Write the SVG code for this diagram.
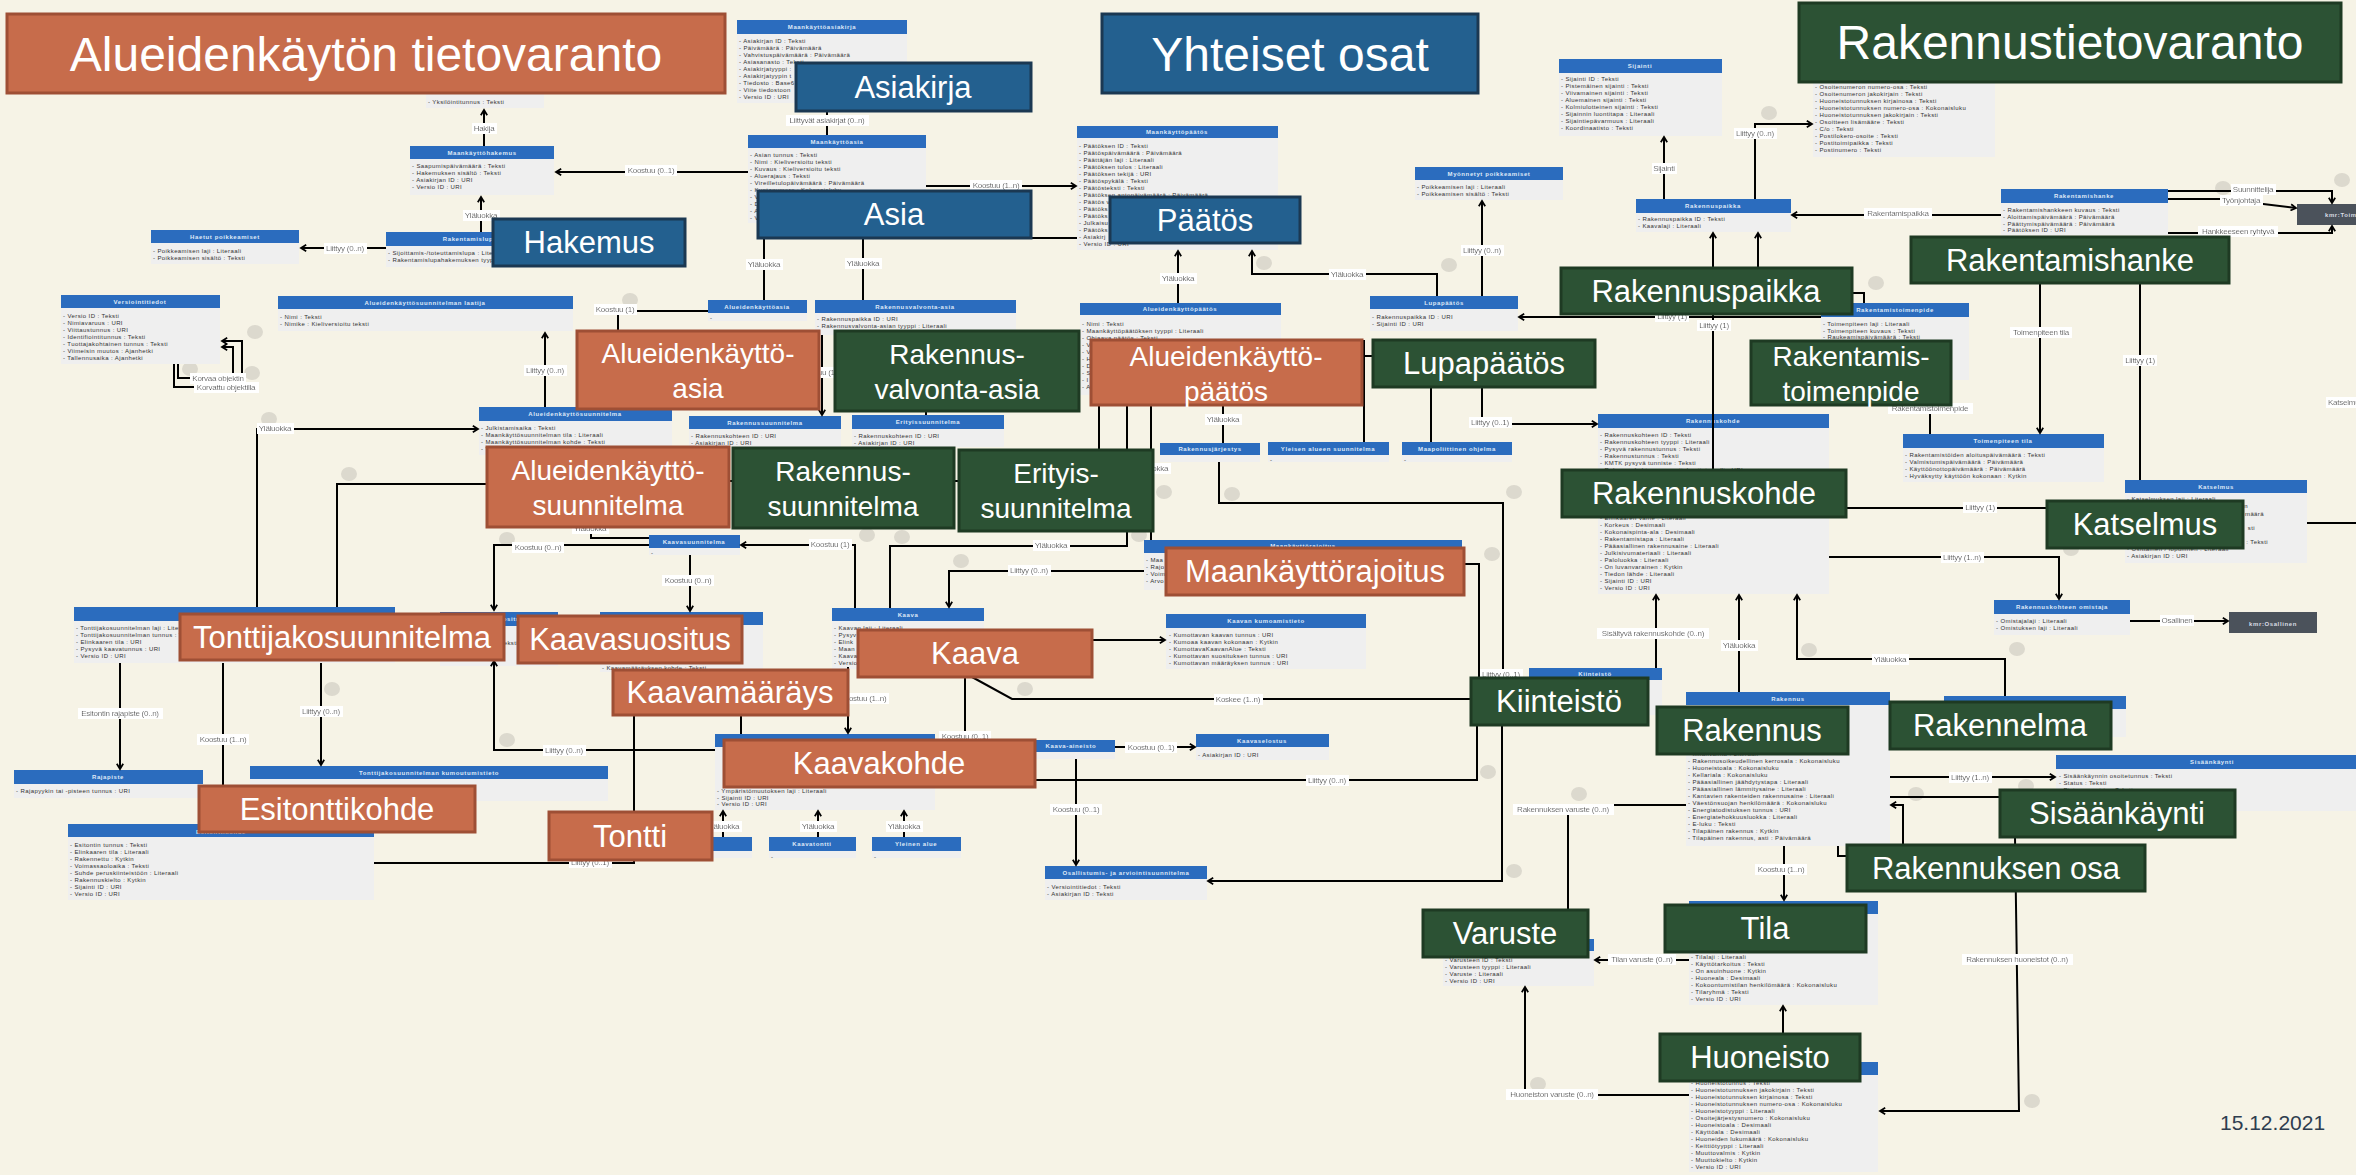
<svg xmlns="http://www.w3.org/2000/svg" width="2356" height="1175" viewBox="0 0 2356 1175">
<defs>
<style>
.hd{fill:#2b6cbe}
.bd{fill:#efefef}
.ht{font-family:'Liberation Sans',Arial,sans-serif;font-size:6px;font-weight:bold;fill:#dfe9f7;text-anchor:middle;letter-spacing:.6px}
.at{font-family:'Liberation Sans',Arial,sans-serif;font-size:6px;fill:#333;letter-spacing:.4px}
.ln{fill:none;stroke:#000;stroke-width:2}
.ar{marker-end:url(#arr)}
.lb{font-family:'Liberation Sans',Arial,sans-serif;font-size:8px;fill:#000;text-anchor:middle;letter-spacing:-.25px;filter:url(#wbg)}
.or{fill:#c76c4b;stroke:#9e4f35;stroke-width:3}
.bl{fill:#23608f;stroke:#1b3852;stroke-width:3}
.gr{fill:#2c5234;stroke:#1e3a23;stroke-width:3}
.bt{font-family:'Liberation Sans',Arial,sans-serif;fill:#fff;text-anchor:middle}
.b31{font-size:31px}
.b28{font-size:28px}
.b48{font-size:48px}
.bub{fill:#dcd9ce}
.km{fill:#4b525b}
.kt{font-family:'Liberation Sans',Arial,sans-serif;font-size:6px;font-weight:bold;fill:#d8dde4;letter-spacing:.6px}
</style>
<marker id="arr" viewBox="0 0 10 10" refX="8" refY="5" markerWidth="8" markerHeight="8" markerUnits="userSpaceOnUse" orient="auto">
<path d="M1.5,1 L8,5 L1.5,9" fill="none" stroke="#000" stroke-width="2.2"/>
</marker>
<filter id="wbg" x="-0.04" y="-0.1" width="1.08" height="1.2">
<feFlood flood-color="#ffffff" result="f"/>
<feMerge><feMergeNode in="f"/><feMergeNode in="SourceGraphic"/></feMerge>
</filter>
</defs>
<rect width="2356" height="1175" fill="#f6f3e6"/>

<g id="bubbles">
<ellipse class="bub" cx="255" cy="332" rx="8" ry="7"/><ellipse class="bub" cx="190" cy="369" rx="8" ry="7"/><ellipse class="bub" cx="252" cy="373" rx="8" ry="7"/><ellipse class="bub" cx="630" cy="300" rx="8" ry="7"/><ellipse class="bub" cx="1264" cy="263" rx="8" ry="7"/><ellipse class="bub" cx="1449" cy="265" rx="8" ry="7"/><ellipse class="bub" cx="2342" cy="180" rx="8" ry="7"/><ellipse class="bub" cx="2223" cy="188" rx="8" ry="7"/><ellipse class="bub" cx="1876" cy="283" rx="8" ry="7"/><ellipse class="bub" cx="1769" cy="113" rx="8" ry="7"/><ellipse class="bub" cx="269" cy="419" rx="8" ry="7"/><ellipse class="bub" cx="349" cy="474" rx="8" ry="7"/><ellipse class="bub" cx="507" cy="539" rx="8" ry="7"/><ellipse class="bub" cx="332" cy="689" rx="8" ry="7"/><ellipse class="bub" cx="507" cy="740" rx="8" ry="7"/><ellipse class="bub" cx="867" cy="535" rx="8" ry="7"/><ellipse class="bub" cx="902" cy="537" rx="8" ry="7"/><ellipse class="bub" cx="961" cy="561" rx="8" ry="7"/><ellipse class="bub" cx="1025" cy="689" rx="8" ry="7"/><ellipse class="bub" cx="1139" cy="535" rx="8" ry="7"/><ellipse class="bub" cx="1164" cy="492" rx="8" ry="7"/><ellipse class="bub" cx="1232" cy="494" rx="8" ry="7"/><ellipse class="bub" cx="1514" cy="492" rx="8" ry="7"/><ellipse class="bub" cx="1492" cy="554" rx="8" ry="7"/><ellipse class="bub" cx="1488" cy="772" rx="8" ry="7"/><ellipse class="bub" cx="2071" cy="549" rx="8" ry="7"/><ellipse class="bub" cx="1809" cy="650" rx="8" ry="7"/><ellipse class="bub" cx="2017" cy="649" rx="8" ry="7"/><ellipse class="bub" cx="1579" cy="794" rx="8" ry="7"/><ellipse class="bub" cx="1514" cy="871" rx="8" ry="7"/><ellipse class="bub" cx="1538" cy="1084" rx="8" ry="7"/><ellipse class="bub" cx="1916" cy="794" rx="8" ry="7"/><ellipse class="bub" cx="2032" cy="1101" rx="8" ry="7"/><ellipse class="bub" cx="2026" cy="786" rx="8" ry="7"/>
</g>

<g id="classes">
<g id="c-yksilointi"><rect class="hd" x="426" y="80" width="118" height="14"/><rect class="bd" x="426" y="94" width="118" height="14"/><text class="at" x="428" y="104">- Yksilöintitunnus : Teksti</text></g>
<g id="c-maankayttohakemus"><rect class="hd" x="410" y="146" width="144" height="13"/><text class="ht" x="482" y="155">Maankäyttöhakemus</text><rect class="bd" x="410" y="159" width="144" height="36"/><text class="at" x="412" y="168"><tspan x="412">- Saapumispäivämäärä : Teksti</tspan><tspan x="412" dy="7">- Hakemuksen sisältö : Teksti</tspan><tspan x="412" dy="7">- Asiakirjan ID : URI</tspan><tspan x="412" dy="7">- Versio ID : URI</tspan></text></g>
<g id="c-haetut"><rect class="hd" x="151" y="230" width="148" height="13"/><text class="ht" x="225" y="239">Haetut poikkeamiset</text><rect class="bd" x="151" y="243" width="148" height="21"/><text class="at" x="153" y="253"><tspan x="153">- Poikkeamisen laji : Literaali</tspan><tspan x="153" dy="7">- Poikkeamisen sisältö : Teksti</tspan></text></g>
<g id="c-rakentamislupa"><rect class="hd" x="386" y="232" width="168" height="14"/><text class="ht" x="470" y="241">Rakentamislupa</text><rect class="bd" x="386" y="246" width="168" height="21"/><text class="at" x="388" y="255"><tspan x="388">- Sijoittamis-/toteuttamislupa : Literaali</tspan><tspan x="388" dy="7">- Rakentamislupahakemuksen tyyppi : Literaali</tspan></text></g>
<g id="c-versiointi"><rect class="hd" x="61" y="295" width="159" height="13"/><text class="ht" x="140" y="304">Versiointitiedot</text><rect class="bd" x="61" y="308" width="159" height="56"/><text class="at" x="63" y="318"><tspan x="63">- Versio ID : Teksti</tspan><tspan x="63" dy="7">- Nimiavaruus : URI</tspan><tspan x="63" dy="7">- Viittaustunnus : URI</tspan><tspan x="63" dy="7">- Identifiointitunnus : Teksti</tspan><tspan x="63" dy="7">- Tuottajakohtainen tunnus : Teksti</tspan><tspan x="63" dy="7">- Viimeisin muutos : Ajanhetki</tspan><tspan x="63" dy="7">- Tallennusaika : Ajanhetki</tspan></text></g>
<g id="c-laatija"><rect class="hd" x="278" y="296" width="295" height="13"/><text class="ht" x="425" y="305">Alueidenkäyttösuunnitelman laatija</text><rect class="bd" x="278" y="309" width="295" height="22"/><text class="at" x="280" y="319"><tspan x="280">- Nimi : Teksti</tspan><tspan x="280" dy="7">- Nimike : Kieliversioitu teksti</tspan></text></g>
<g id="c-maankayttoasiakirja"><rect class="hd" x="737" y="20" width="170" height="14"/><text class="ht" x="822" y="29">Maankäyttöasiakirja</text><rect class="bd" x="737" y="34" width="170" height="69"/><text class="at" x="739" y="43"><tspan x="739">- Asiakirjan ID : Teksti</tspan><tspan x="739" dy="7">- Päivämäärä : Päivämäärä</tspan><tspan x="739" dy="7">- Vahvistuspäivämäärä : Päivämäärä</tspan><tspan x="739" dy="7">- Asiasanasto : Teksti</tspan><tspan x="739" dy="7">- Asiakirjatyyppi :</tspan><tspan x="739" dy="7">- Asiakirjatyypin t</tspan><tspan x="739" dy="7">- Tiedosto : Base6</tspan><tspan x="739" dy="7">- Viite tiedostoon</tspan><tspan x="739" dy="7">- Versio ID : URI</tspan></text></g>
<g id="c-maankayttoasia"><rect class="hd" x="748" y="135" width="178" height="13"/><text class="ht" x="837" y="144">Maankäyttöasia</text><rect class="bd" x="748" y="148" width="178" height="75"/><text class="at" x="750" y="157"><tspan x="750">- Asian tunnus : Teksti</tspan><tspan x="750" dy="7">- Nimi : Kieliversioitu teksti</tspan><tspan x="750" dy="7">- Kuvaus : Kieliversioitu teksti</tspan><tspan x="750" dy="7">- Aluerajaus : Teksti</tspan><tspan x="750" dy="7">- Vireilletulopäivämäärä : Päivämäärä</tspan><tspan x="750" dy="7">- Kuntanumero : Kokonaisluku</tspan><tspan x="750" dy="7">- V</tspan><tspan x="750" dy="7">- D</tspan><tspan x="750" dy="7">- A</tspan><tspan x="750" dy="7">- V</tspan></text></g>
<g id="c-maankayttopaatos"><rect class="hd" x="1077" y="126" width="201" height="12"/><text class="ht" x="1177" y="134">Maankäyttöpäätös</text><rect class="bd" x="1077" y="138" width="201" height="112"/><text class="at" x="1079" y="148"><tspan x="1079">- Päätöksen ID : Teksti</tspan><tspan x="1079" dy="7">- Päätöspäivämäärä : Päivämäärä</tspan><tspan x="1079" dy="7">- Päättäjän laji : Literaali</tspan><tspan x="1079" dy="7">- Päätöksen tulos : Literaali</tspan><tspan x="1079" dy="7">- Päätöksen tekijä : URI</tspan><tspan x="1079" dy="7">- Päätöspykälä : Teksti</tspan><tspan x="1079" dy="7">- Päätösteksti : Teksti</tspan><tspan x="1079" dy="7">- Päätöksen antopäivämäärä : Päivämäärä</tspan><tspan x="1079" dy="7">- Päätös v</tspan><tspan x="1079" dy="7">- Päätöks</tspan><tspan x="1079" dy="7">- Päätöks</tspan><tspan x="1079" dy="7">- Julkaisu</tspan><tspan x="1079" dy="7">- Päätöks</tspan><tspan x="1079" dy="7">- Asiakirj</tspan><tspan x="1079" dy="7">- Versio ID : URI</tspan></text></g>
<g id="c-alueidenkayttoasia"><rect class="hd" x="708" y="300" width="99" height="13"/><text class="ht" x="757" y="309">Alueidenkäyttöasia</text><rect class="bd" x="708" y="313" width="99" height="8"/><text class="at" x="710" y="320">-</text></g>
<g id="c-rakennusvalvontaasia"><rect class="hd" x="815" y="300" width="201" height="13"/><text class="ht" x="915" y="309">Rakennusvalvonta-asia</text><rect class="bd" x="815" y="313" width="201" height="22"/><text class="at" x="817" y="321"><tspan x="817">- Rakennuspaikka ID : URI</tspan><tspan x="817" dy="7">- Rakennusvalvonta-asian tyyppi : Literaali</tspan></text></g>
<g id="c-alueidenkayttopaatos"><rect class="hd" x="1080" y="303" width="201" height="12"/><text class="ht" x="1180" y="311">Alueidenkäyttöpäätös</text><rect class="bd" x="1080" y="315" width="201" height="80"/><text class="at" x="1082" y="326"><tspan x="1082">- Nimi : Teksti</tspan><tspan x="1082" dy="7">- Maankäyttöpäätöksen tyyppi : Literaali</tspan><tspan x="1082" dy="7">- Ohjaava päätös : Teksti</tspan><tspan x="1082" dy="7">- V</tspan><tspan x="1082" dy="7">- V</tspan><tspan x="1082" dy="7">- H</tspan><tspan x="1082" dy="7">- D</tspan><tspan x="1082" dy="7">- S</tspan><tspan x="1082" dy="7">- I</tspan><tspan x="1082" dy="7">- A</tspan></text></g>
<g id="c-myonnetyt"><rect class="hd" x="1415" y="167" width="148" height="13"/><text class="ht" x="1489" y="176">Myönnetyt poikkeamiset</text><rect class="bd" x="1415" y="180" width="148" height="20"/><text class="at" x="1417" y="189"><tspan x="1417">- Poikkeamisen laji : Literaali</tspan><tspan x="1417" dy="7">- Poikkeamisen sisältö : Teksti</tspan></text></g>
<g id="c-lupapaatos"><rect class="hd" x="1370" y="296" width="148" height="13"/><text class="ht" x="1444" y="305">Lupapäätös</text><rect class="bd" x="1370" y="309" width="148" height="22"/><text class="at" x="1372" y="319"><tspan x="1372">- Rakennuspaikka ID : URI</tspan><tspan x="1372" dy="6.5">- Sijainti ID : URI</tspan></text></g>
<g id="c-sijainti"><rect class="hd" x="1559" y="59" width="163" height="14"/><text class="ht" x="1640" y="68">Sijainti</text><rect class="bd" x="1559" y="73" width="163" height="63"/><text class="at" x="1561" y="81"><tspan x="1561">- Sijainti ID : Teksti</tspan><tspan x="1561" dy="7">- Pistemäinen sijainti : Teksti</tspan><tspan x="1561" dy="7">- Viivamainen sijainti : Teksti</tspan><tspan x="1561" dy="7">- Aluemainen sijainti : Teksti</tspan><tspan x="1561" dy="7">- Kolmiulotteinen sijainti : Teksti</tspan><tspan x="1561" dy="7">- Sijainnin luontitapa : Literaali</tspan><tspan x="1561" dy="7">- Sijaintiepävarmuus : Literaali</tspan><tspan x="1561" dy="7">- Koordinaatisto : Teksti</tspan></text></g>
<g id="c-rakennuspaikka"><rect class="hd" x="1636" y="199" width="155" height="14"/><text class="ht" x="1713" y="208">Rakennuspaikka</text><rect class="bd" x="1636" y="213" width="155" height="19"/><text class="at" x="1638" y="221"><tspan x="1638">- Rakennuspaikka ID : Teksti</tspan><tspan x="1638" dy="7">- Kaavalaji : Literaali</tspan></text></g>
<g id="c-osoite"><rect class="hd" x="1813" y="40" width="182" height="14"/><rect class="bd" x="1813" y="54" width="182" height="103"/><text class="at" x="1815" y="89"><tspan x="1815">- Osoitenumeron numero-osa : Teksti</tspan><tspan x="1815" dy="7">- Osoitenumeron jakokirjain : Teksti</tspan><tspan x="1815" dy="7">- Huoneistotunnuksen kirjainosa : Teksti</tspan><tspan x="1815" dy="7">- Huoneistotunnuksen numero-osa : Kokonaisluku</tspan><tspan x="1815" dy="7">- Huoneistotunnuksen jakokirjain : Teksti</tspan><tspan x="1815" dy="7">- Osoitteen lisämääre : Teksti</tspan><tspan x="1815" dy="7">- C/o : Teksti</tspan><tspan x="1815" dy="7">- Postilokero-osoite : Teksti</tspan><tspan x="1815" dy="7">- Postitoimipaikka : Teksti</tspan><tspan x="1815" dy="7">- Postinumero : Teksti</tspan></text></g>
<g id="c-rakentamishanke"><rect class="hd" x="2001" y="189" width="167" height="14"/><text class="ht" x="2084" y="198">Rakentamishanke</text><rect class="bd" x="2001" y="203" width="167" height="32"/><text class="at" x="2003" y="212"><tspan x="2003">- Rakentamishankkeen kuvaus : Teksti</tspan><tspan x="2003" dy="6.8">- Aloittamispäivämäärä : Päivämäärä</tspan><tspan x="2003" dy="6.8">- Päättymispäivämäärä : Päivämäärä</tspan><tspan x="2003" dy="6.8">- Päätöksen ID : URI</tspan></text></g>
<g id="c-rakentamistoimenpide"><rect class="hd" x="1821" y="303" width="148" height="14"/><text class="ht" x="1895" y="312">Rakentamistoimenpide</text><rect class="bd" x="1821" y="317" width="148" height="63"/><text class="at" x="1823" y="326"><tspan x="1823">- Toimenpiteen laji : Literaali</tspan><tspan x="1823" dy="6.6">- Toimenpiteen kuvaus : Teksti</tspan><tspan x="1823" dy="6.6">- Raukeamispäivämäärä : Teksti</tspan></text></g>
<g id="c-alueidenkayttosuunnitelma"><rect class="hd" x="479" y="407" width="193" height="14"/><text class="ht" x="575" y="416">Alueidenkäyttösuunnitelma</text><rect class="bd" x="479" y="421" width="193" height="34"/><text class="at" x="481" y="430"><tspan x="481">- Julkistamisaika : Teksti</tspan><tspan x="481" dy="7">- Maankäyttösuunnitelman tila : Literaali</tspan><tspan x="481" dy="7">- Maankäyttösuunnitelman kohde : Teksti</tspan><tspan x="481" dy="7">- Versio ID : URI</tspan></text></g>
<g id="c-rakennussuunnitelma"><rect class="hd" x="689" y="416" width="152" height="13"/><text class="ht" x="765" y="425">Rakennussuunnitelma</text><rect class="bd" x="689" y="429" width="152" height="18"/><text class="at" x="691" y="438"><tspan x="691">- Rakennuskohteen ID : URI</tspan><tspan x="691" dy="7">- Asiakirjan ID : URI</tspan></text></g>
<g id="c-erityissuunnitelma"><rect class="hd" x="852" y="415" width="152" height="14"/><text class="ht" x="928" y="424">Erityissuunnitelma</text><rect class="bd" x="852" y="429" width="152" height="18"/><text class="at" x="854" y="438"><tspan x="854">- Rakennuskohteen ID : URI</tspan><tspan x="854" dy="7">- Asiakirjan ID : URI</tspan></text></g>
<g id="c-kaavasuunnitelma"><rect class="hd" x="649" y="535" width="91" height="13"/><text class="ht" x="694" y="544">Kaavasuunnitelma</text><rect class="bd" x="649" y="548" width="91" height="7"/><text class="at" x="651" y="555">-</text></g>
<g id="c-tonttijako"><rect class="hd" x="74" y="607" width="321" height="14"/><rect class="bd" x="74" y="621" width="321" height="42"/><text class="at" x="76" y="630"><tspan x="76">- Tonttijakosuunnitelman laji : Literaali</tspan><tspan x="76" dy="7">- Tonttijakosuunnitelman tunnus : Teksti</tspan><tspan x="76" dy="7">- Elinkaaren tila : URI</tspan><tspan x="76" dy="7">- Pysyvä kaavatunnus : URI</tspan><tspan x="76" dy="7">- Versio ID : URI</tspan></text></g>
<g id="c-kaavasuositus"><rect class="hd" x="440" y="612" width="118" height="14"/><text class="ht" x="499" y="621">Kaavasuositus</text><rect class="bd" x="440" y="626" width="118" height="40"/><text class="at" x="518" y="645" text-anchor="end">: Teksti</text></g>
<g id="c-kaavamaarays"><rect class="hd" x="600" y="612" width="163" height="13"/><rect class="bd" x="600" y="625" width="163" height="47"/><text class="at" x="602" y="670">- Kaavamääräyksen kohde : Teksti</text></g>
<g id="c-kaava"><rect class="hd" x="832" y="608" width="152" height="13"/><text class="ht" x="908" y="617">Kaava</text><rect class="bd" x="832" y="621" width="152" height="48"/><text class="at" x="834" y="630"><tspan x="834">- Kaavan laji : Literaali</tspan><tspan x="834" dy="7">- Pysyv</tspan><tspan x="834" dy="7">- Elink</tspan><tspan x="834" dy="7">- Maan</tspan><tspan x="834" dy="7">- Kaava</tspan><tspan x="834" dy="7">- Versio</tspan></text></g>
<g id="c-maankayttorajoitus"><rect class="hd" x="1144" y="540" width="318" height="13"/><text class="ht" x="1303" y="548">Maankäyttörajoitus</text><rect class="bd" x="1144" y="553" width="318" height="37"/><text class="at" x="1146" y="562"><tspan x="1146">- Maa</tspan><tspan x="1146" dy="7">- Rajo</tspan><tspan x="1146" dy="7">- Voim</tspan><tspan x="1146" dy="7">- Arvo</tspan></text></g>
<g id="c-rakennusjarjestys"><rect class="hd" x="1160" y="443" width="100" height="12"/><text class="ht" x="1210" y="451">Rakennusjärjestys</text><rect class="bd" x="1160" y="455" width="100" height="7"/></g>
<g id="c-yleisen"><rect class="hd" x="1268" y="442" width="121" height="13"/><text class="ht" x="1328" y="451">Yleisen alueen suunnitelma</text><rect class="bd" x="1268" y="455" width="121" height="7"/><text class="at" x="1270" y="462">-</text></g>
<g id="c-maapoliittinen"><rect class="hd" x="1402" y="442" width="110" height="13"/><text class="ht" x="1457" y="451">Maapoliittinen ohjelma</text><rect class="bd" x="1402" y="455" width="110" height="7"/><text class="at" x="1404" y="462">-</text></g>
<g id="c-rakennuskohde"><rect class="hd" x="1598" y="414" width="231" height="14"/><text class="ht" x="1713" y="423">Rakennuskohde</text><rect class="bd" x="1598" y="428" width="231" height="166"/><text class="at" x="1600" y="437"><tspan x="1600">- Rakennuskohteen ID : Teksti</tspan><tspan x="1600" dy="7">- Rakennuskohteen tyyppi : Literaali</tspan><tspan x="1600" dy="7">- Pysyvä rakennustunnus : Teksti</tspan><tspan x="1600" dy="7">- Rakennustunnus : Teksti</tspan><tspan x="1600" dy="7">- KMTK pysyvä tunniste : Teksti</tspan><tspan x="1600" dy="7">- Rakennuskohteen suunnitelmatietomalli : URI</tspan></text><text class="at" x="1600" y="520"><tspan x="1600">- Elinkaaren vaihe : Literaali</tspan><tspan x="1600" dy="7">- Korkeus : Desimaali</tspan><tspan x="1600" dy="7">- Kokonaispinta-ala : Desimaali</tspan><tspan x="1600" dy="7">- Rakentamistapa : Literaali</tspan><tspan x="1600" dy="7">- Pääasiallinen rakennusaine : Literaali</tspan><tspan x="1600" dy="7">- Julkisivumateriaali : Literaali</tspan><tspan x="1600" dy="7">- Paloluokka : Literaali</tspan><tspan x="1600" dy="7">- On luvanvarainen : Kytkin</tspan><tspan x="1600" dy="7">- Tiedon lähde : Literaali</tspan><tspan x="1600" dy="7">- Sijainti ID : URI</tspan><tspan x="1600" dy="7">- Versio ID : URI</tspan></text></g>
<g id="c-kaavankumoamis"><rect class="hd" x="1166" y="614" width="200" height="14"/><text class="ht" x="1266" y="623">Kaavan kumoamistieto</text><rect class="bd" x="1166" y="628" width="200" height="41"/><text class="at" x="1169" y="637"><tspan x="1169">- Kumottavan kaavan tunnus : URI</tspan><tspan x="1169" dy="7">- Kumoaa kaavan kokonaan : Kytkin</tspan><tspan x="1169" dy="7">- KumottavaKaavanAlue : Teksti</tspan><tspan x="1169" dy="7">- Kumottavan suosituksen tunnus : URI</tspan><tspan x="1169" dy="7">- Kumottavan määräyksen tunnus : URI</tspan></text></g>
<g id="c-kaavaselostus"><rect class="hd" x="1196" y="734" width="133" height="13"/><text class="ht" x="1262" y="743">Kaavaselostus</text><rect class="bd" x="1196" y="747" width="133" height="13"/><text class="at" x="1198" y="757">- Asiakirjan ID : URI</text></g>
<g id="c-kiinteisto"><rect class="hd" x="1529" y="668" width="133" height="12"/><text class="ht" x="1595" y="676">Kiinteistö</text><rect class="bd" x="1529" y="680" width="133" height="35"/></g>
<g id="c-rakennus"><rect class="hd" x="1686" y="692" width="204" height="13"/><text class="ht" x="1788" y="701">Rakennus</text><rect class="bd" x="1686" y="705" width="204" height="141"/><text class="at" x="1688" y="756"><tspan x="1688">- Ilmanvaihto : Literaali</tspan><tspan x="1688" dy="7">- Rakennusoikeudellinen kerrosala : Kokonaisluku</tspan><tspan x="1688" dy="7">- Huoneistoala : Kokonaisluku</tspan><tspan x="1688" dy="7">- Kellariala : Kokonaisluku</tspan><tspan x="1688" dy="7">- Pääasiallinen jäähdytystapa : Literaali</tspan><tspan x="1688" dy="7">- Pääasiallinen lämmitysaine : Literaali</tspan><tspan x="1688" dy="7">- Kantavien rakenteiden rakennusaine : Literaali</tspan><tspan x="1688" dy="7">- Väestönsuojan henkilömäärä : Kokonaisluku</tspan><tspan x="1688" dy="7">- Energiatodistuksen tunnus : URI</tspan><tspan x="1688" dy="7">- Energiatehokkuusluokka : Literaali</tspan><tspan x="1688" dy="7">- E-luku : Teksti</tspan><tspan x="1688" dy="7">- Tilapäinen rakennus : Kytkin</tspan><tspan x="1688" dy="7">- Tilapäinen rakennus, asti : Päivämäärä</tspan></text></g>
<g id="c-rakennelma"><rect class="hd" x="1944" y="696" width="182" height="13"/><rect class="bd" x="1944" y="709" width="182" height="28"/></g>
<g id="c-toimenpiteentila"><rect class="hd" x="1903" y="434" width="201" height="14"/><text class="ht" x="2003" y="443">Toimenpiteen tila</text><rect class="bd" x="1903" y="448" width="201" height="34"/><text class="at" x="1905" y="457"><tspan x="1905">- Rakentamistöiden aloituspäivämäärä : Teksti</tspan><tspan x="1905" dy="7">- Valmistumispäivämäärä : Päivämäärä</tspan><tspan x="1905" dy="7">- Käyttöönottopäivämäärä : Päivämäärä</tspan><tspan x="1905" dy="7">- Hyväksytty käyttöön kokonaan : Kytkin</tspan></text></g>
<g id="c-katselmus"><rect class="hd" x="2125" y="480" width="182" height="13"/><text class="ht" x="2216" y="489">Katselmus</text><rect class="bd" x="2125" y="493" width="182" height="70"/><text class="at" x="2127" y="501">- Katselmuksen laji : Literaali</text><text class="at" text-anchor="end"><tspan x="2248" y="508">n</tspan><tspan x="2264" y="516">määrä</tspan><tspan x="2255" y="530">sti</tspan><tspan x="2268" y="544">: Teksti</tspan></text><text class="at" x="2127" y="551"><tspan x="2127">- Osittainen / lopullinen : Literaali</tspan><tspan x="2127" dy="7">- Asiakirjan ID : URI</tspan></text></g>
<g id="c-rakennuskohteenomistaja"><rect class="hd" x="1994" y="600" width="136" height="14"/><text class="ht" x="2062" y="609">Rakennuskohteen omistaja</text><rect class="bd" x="1994" y="614" width="136" height="21"/><text class="at" x="1996" y="623"><tspan x="1996">- Omistajalaji : Literaali</tspan><tspan x="1996" dy="7">- Omistuksen laji : Literaali</tspan></text></g>
<g id="c-sisaankaynti"><rect class="hd" x="2056" y="755" width="312" height="14"/><text class="ht" x="2212" y="764">Sisäänkäynti</text><rect class="bd" x="2056" y="769" width="312" height="42"/><text class="at" x="2059" y="778"><tspan x="2059">- Sisäänkäynnin osoitetunnus : Teksti</tspan><tspan x="2059" dy="7">- Status : Teksti</tspan><tspan x="2059" dy="7">- Pistegeometria : Teksti</tspan></text></g>
<g id="c-rajapiste"><rect class="hd" x="14" y="770" width="189" height="14"/><text class="ht" x="108" y="779">Rajapiste</text><rect class="bd" x="14" y="784" width="189" height="14"/><text class="at" x="16" y="793">- Rajapyykin tai -pisteen tunnus : URI</text></g>
<g id="c-tonttijakokumoutumis"><rect class="hd" x="250" y="766" width="358" height="13"/><text class="ht" x="429" y="775">Tonttijakosuunnitelman kumoutumistieto</text><rect class="bd" x="250" y="779" width="358" height="22"/></g>
<g id="c-esitonttikohde"><rect class="hd" x="68" y="824" width="306" height="13"/><text class="ht" x="221" y="834">Esitonttikohde</text><rect class="bd" x="68" y="837" width="306" height="63"/><text class="at" x="70" y="847"><tspan x="70">- Esitontin tunnus : Teksti</tspan><tspan x="70" dy="7">- Elinkaaren tila : Literaali</tspan><tspan x="70" dy="7">- Rakennettu : Kytkin</tspan><tspan x="70" dy="7">- Voimassaoloaika : Teksti</tspan><tspan x="70" dy="7">- Suhde peruskiinteistöön : Literaali</tspan><tspan x="70" dy="7">- Rakennuskielto : Kytkin</tspan><tspan x="70" dy="7">- Sijainti ID : URI</tspan><tspan x="70" dy="7">- Versio ID : URI</tspan></text></g>
<g id="c-kaavakohde"><rect class="hd" x="715" y="734" width="220" height="13"/><rect class="bd" x="715" y="747" width="220" height="63"/><text class="at" x="717" y="793"><tspan x="717">- Ympäristömuutoksen laji : Literaali</tspan><tspan x="717" dy="6.5">- Sijainti ID : URI</tspan><tspan x="717" dy="6.5">- Versio ID : URI</tspan></text></g>
<g id="c-kaavaaineisto"><rect class="hd" x="1027" y="740" width="88" height="12"/><text class="ht" x="1071" y="748">Kaava-aineisto</text><rect class="bd" x="1027" y="752" width="88" height="7"/></g>
<g id="c-osallistumis"><rect class="hd" x="1045" y="866" width="162" height="13"/><text class="ht" x="1126" y="875">Osallistumis- ja arviointisuunnitelma</text><rect class="bd" x="1045" y="879" width="162" height="21"/><text class="at" x="1047" y="889"><tspan x="1047">- Versiointitiedot : Teksti</tspan><tspan x="1047" dy="7">- Asiakirjan ID : Teksti</tspan></text></g>
<g id="c-small1"><rect class="hd" x="660" y="837" width="92" height="14"/><rect class="bd" x="660" y="851" width="92" height="7"/></g>
<g id="c-kaavatontti"><rect class="hd" x="769" y="837" width="87" height="14"/><text class="ht" x="812" y="846">Kaavatontti</text><rect class="bd" x="769" y="851" width="87" height="7"/><text class="at" x="771" y="859">-</text></g>
<g id="c-yleinenalue"><rect class="hd" x="872" y="837" width="89" height="14"/><text class="ht" x="916" y="846">Yleinen alue</text><rect class="bd" x="872" y="851" width="89" height="7"/><text class="at" x="874" y="859">-</text></g>
<g id="c-varuste"><rect class="hd" x="1443" y="939" width="151" height="12"/><rect class="bd" x="1443" y="951" width="151" height="35"/><text class="at" x="1445" y="962"><tspan x="1445">- Varusteen ID : Teksti</tspan><tspan x="1445" dy="7">- Varusteen tyyppi : Literaali</tspan><tspan x="1445" dy="7">- Varuste : Literaali</tspan><tspan x="1445" dy="7">- Versio ID : URI</tspan></text></g>
<g id="c-tila"><rect class="hd" x="1689" y="901" width="189" height="13"/><rect class="bd" x="1689" y="914" width="189" height="91"/><text class="at" x="1691" y="959"><tspan x="1691">- Tilalaji : Literaali</tspan><tspan x="1691" dy="7">- Käyttötarkoitus : Teksti</tspan><tspan x="1691" dy="7">- On asuinhuone : Kytkin</tspan><tspan x="1691" dy="7">- Huoneala : Desimaali</tspan><tspan x="1691" dy="7">- Kokoontumistilan henkilömäärä : Kokonaisluku</tspan><tspan x="1691" dy="7">- Tilaryhmä : Teksti</tspan><tspan x="1691" dy="7">- Versio ID : URI</tspan></text></g>
<g id="c-huoneisto"><rect class="hd" x="1689" y="1062" width="189" height="13"/><rect class="bd" x="1689" y="1075" width="189" height="97"/><text class="at" x="1691" y="1085"><tspan x="1691">- Huoneistotunnus : Teksti</tspan><tspan x="1691" dy="7">- Huoneistotunnuksen jakokirjain : Teksti</tspan><tspan x="1691" dy="7">- Huoneistotunnuksen kirjainosa : Teksti</tspan><tspan x="1691" dy="7">- Huoneistotunnuksen numero-osa : Kokonaisluku</tspan><tspan x="1691" dy="7">- Huoneistotyyppi : Literaali</tspan><tspan x="1691" dy="7">- Osoitejärjestysnumero : Kokonaisluku</tspan><tspan x="1691" dy="7">- Huoneistoala : Desimaali</tspan><tspan x="1691" dy="7">- Käyttöala : Desimaali</tspan><tspan x="1691" dy="7">- Huoneiden lukumäärä : Kokonaisluku</tspan><tspan x="1691" dy="7">- Keittiötyyppi : Literaali</tspan><tspan x="1691" dy="7">- Muuttovalmis : Kytkin</tspan><tspan x="1691" dy="7">- Muuttokielto : Kytkin</tspan><tspan x="1691" dy="7">- Versio ID : URI</tspan></text></g>
<g id="kmr-toimija"><rect class="km" x="2297" y="204" width="70" height="21"/><text class="kt" x="2325" y="217">kmr:Toimija</text></g>
<g id="kmr-osallinen"><rect class="km" x="2229" y="612" width="88" height="21"/><text class="kt" x="2273" y="626" text-anchor="middle">kmr:Osallinen</text></g>
</g>

<g id="connectors">
<path class="ln ar" d="M484,146V110"/><text class="lb" x="484" y="131">Hakija</text>
<path class="ln ar" d="M748,172H556"/><text class="lb" x="651" y="173">Koostuu (0..1)</text>
<path class="ln ar" d="M481,232V197"/><text class="lb" x="481" y="218">Yläluokka</text>
<path class="ln ar" d="M386,248H301"/><text class="lb" x="345" y="251">Liittyy (0..n)</text>
<path class="ln ar" d="M178,364V378H233V347H222"/>
<path class="ln ar" d="M174,364V387H242V341H222"/>
<text class="lb" x="218" y="381">Korvaa objektin</text>
<text class="lb" x="226" y="390">Korvattu objektilla</text>
<path class="ln ar" d="M545,407V333"/><text class="lb" x="545" y="373">Liittyy (0..n)</text>
<path class="ln" d="M827,135V111"/><text class="lb" x="827" y="123">Liittyvät asiakirjat (0..n)</text>
<path class="ln ar" d="M926,186H1076"/><text class="lb" x="996" y="188">Koostuu (1..n)</text>
<path class="ln" d="M911,238H1077"/>
<path class="ln" d="M764,300V238"/><text class="lb" x="764" y="267">Yläluokka</text>
<path class="ln" d="M863,300V238"/><text class="lb" x="863" y="266">Yläluokka</text>
<path class="ln" d="M708,311H618V407"/><text class="lb" x="615" y="312">Koostuu (1)</text>
<path class="ln ar" d="M822,335V415"/><text class="lb" x="822" y="375">Koostuu (1..n)</text>
<path class="ln" d="M926,335V415"/>
<path class="ln ar" d="M1178,303V251"/><text class="lb" x="1178" y="281">Yläluokka</text>
<path class="ln ar" d="M1437,296V274H1252V251"/><text class="lb" x="1347" y="277">Yläluokka</text>
<path class="ln ar" d="M1482,296V201"/><text class="lb" x="1482" y="253">Liittyy (0..n)</text>
<path class="ln ar" d="M1821,317H1519"/><text class="lb" x="1672" y="319">Liittyy (1)</text>
<path class="ln ar" d="M1713,470V233"/><text class="lb" x="1714" y="328">Liittyy (1)</text>
<path class="ln ar" d="M1664,199V137"/><text class="lb" x="1664" y="171">Sijainti</text>
<path class="ln ar" d="M1755,199V124H1812"/><text class="lb" x="1755" y="136">Liittyy (0..n)</text>
<path class="ln ar" d="M1864,303V293H1758V233"/>
<path class="ln ar" d="M2001,215H1792"/><text class="lb" x="1898" y="216">Rakentamispaikka</text>
<path class="ln ar" d="M2168,191H2332V203"/><text class="lb" x="2253" y="192">Suunnittelija</text>
<path class="ln ar" d="M2168,199H2222L2296,208"/><text class="lb" x="2241" y="203">Työnjohtaja</text>
<path class="ln ar" d="M2168,233H2332V226"/><text class="lb" x="2238" y="234">Hankkeeseen ryhtyvä</text>
<path class="ln ar" d="M2040,283V433"/><text class="lb" x="2041" y="335">Toimenpiteen tila</text>
<path class="ln" d="M2140,283V480"/><text class="lb" x="2140" y="363">Liittyy (1)</text>
<path class="ln" d="M1930,405V434"/><text class="lb" x="1930" y="411">Rakentamistoimenpide</text>
<path class="ln ar" d="M257,607V429H478"/><text class="lb" x="275" y="431">Yläluokka</text>
<path class="ln" d="M487,484H337V607"/>
<path class="ln ar" d="M649,545H494V610"/><text class="lb" x="538" y="550">Koostuu (0..n)</text>
<path class="ln" d="M649,538H591V456"/><text class="lb" x="590" y="531">Yläluokka</text>
<path class="ln ar" d="M120,663V769"/><text class="lb" x="120" y="716">Esitontin rajapiste (0..n)</text>
<path class="ln" d="M223,663V824"/><text class="lb" x="223" y="742">Koostuu (1..n)</text>
<path class="ln ar" d="M321,663V765"/><text class="lb" x="321" y="714">Liittyy (0..n)</text>
<path class="ln ar" d="M715,750H494V661"/><text class="lb" x="564" y="753">Liittyy (0..n)</text>
<path class="ln ar" d="M855,608V545H741"/><text class="lb" x="830" y="547">Koostuu (1)</text>
<path class="ln ar" d="M690,555V611"/><text class="lb" x="688" y="583">Koostuu (0..n)</text>
<path class="ln" d="M890,608V546H1127V395"/><text class="lb" x="1051" y="548">Yläluokka</text>
<path class="ln ar" d="M1144,571H949V607"/><text class="lb" x="1029" y="573">Liittyy (0..n)</text>
<path class="ln ar" d="M1092,640H1165"/>
<path class="ln" d="M972,677L1012,699H1471"/><text class="lb" x="1238" y="702">Koskee (1..n)</text>
<path class="ln" d="M965,677V734"/><text class="lb" x="965" y="739">Koostuu (0..1)</text>
<path class="ln ar" d="M848,667V733"/><text class="lb" x="863" y="701">Koostuu (1..n)</text>
<path class="ln" d="M634,715V863H374"/><text class="lb" x="590" y="865">Liittyy (0..1)</text>
<path class="ln" d="M741,715V734"/>
<path class="ln ar" d="M1115,747H1195"/><text class="lb" x="1151" y="750">Koostuu (0..1)</text>
<path class="ln ar" d="M1076,759V865"/><text class="lb" x="1076" y="812">Koostuu (0..1)</text>
<path class="ln" d="M1035,780H1477V725"/><text class="lb" x="1327" y="783">Liittyy (0..n)</text>
<path class="ln" d="M1223,405V443"/><text class="lb" x="1223" y="422">Yläluokka</text>
<path class="ln" d="M1364,340V442"/>
<path class="ln" d="M1431,387V442"/>
<path class="ln ar" d="M1482,387V424H1597"/><text class="lb" x="1490" y="425">Liittyy (0..1)</text>
<path class="ln" d="M1219,462V503H1503V678"/><text class="lb" x="1501" y="677">Liittyy (0..1)</text>
<path class="ln" d="M1464,564H1479V678"/>
<path class="ln ar" d="M1656,668V595"/><text class="lb" x="1653" y="636">Sisältyvä rakennuskohde (0..n)</text>
<path class="ln ar" d="M1739,692V595"/><text class="lb" x="1739" y="648">Yläluokka</text>
<path class="ln" d="M1846,508H2047"/><text class="lb" x="1980" y="510">Liittyy (1)</text>
<path class="ln ar" d="M1829,557H2059V599"/><text class="lb" x="1962" y="560">Liittyy (1..n)</text>
<path class="ln ar" d="M2130,621H2228"/><text class="lb" x="2177" y="623">Osallinen</text>
<path class="ln ar" d="M2005,696V659H1797V595"/><text class="lb" x="1890" y="662">Yläluokka</text>
<path class="ln ar" d="M1890,777H2055"/><text class="lb" x="1970" y="780">Liittyy (1..n)</text>
<path class="ln" d="M2000,797H1890"/>
<path class="ln ar" d="M1903,845V805H1891"/>
<path class="ln" d="M1838,846V856H1847"/>
<path class="ln ar" d="M2015,837L2019,1111H1880"/><text class="lb" x="2017" y="962">Rakennuksen huoneistot (0..n)</text>
<path class="ln ar" d="M1784,846V900"/><text class="lb" x="1781" y="872">Koostuu (1..n)</text>
<path class="ln ar" d="M1783,1034V1006"/>
<path class="ln" d="M1686,805H1568V910"/><text class="lb" x="1563" y="812">Rakennuksen varuste (0..n)</text>
<path class="ln ar" d="M1689,960H1595"/><text class="lb" x="1642" y="962">Tilan varuste (0..n)</text>
<path class="ln ar" d="M1689,1095H1525V987"/><text class="lb" x="1552" y="1097">Huoneiston varuste (0..n)</text>
<path class="ln ar" d="M1502,725V881H1208"/>
<path class="ln ar" d="M723,837V811"/><text class="lb" x="723" y="829">Yläluokka</text>
<path class="ln ar" d="M818,837V811"/><text class="lb" x="818" y="829">Yläluokka</text>
<path class="ln ar" d="M904,837V811"/><text class="lb" x="904" y="829">Yläluokka</text>
<path class="ln" d="M2307,523H2356"/>
<path class="ln" d="M729,481H959"/>
<path class="ln" d="M1362,356H1373"/>
<path class="ln" d="M1099,405V450"/>
<path class="ln" d="M1151,395V540"/><text class="lb" x="1152" y="471">Yläluokka</text>
<text class="lb" x="2328" y="405" style="text-anchor:start">Katselmus</text>
</g>

<g id="overlays">
<g id="t-alueidenkayton"><rect class="or" x="7" y="14" width="718" height="79"/><text class="bt b48" x="366" y="71">Alueidenkäytön tietovaranto</text></g>
<g id="t-yhteiset"><rect class="bl" x="1102" y="14" width="376" height="79"/><text class="bt b48" x="1290" y="71">Yhteiset osat</text></g>
<g id="t-rakennustieto"><rect class="gr" x="1799" y="3" width="542" height="79"/><text class="bt b48" x="2070" y="59">Rakennustietovaranto</text></g>
<g id="b-asiakirja"><rect class="bl" x="796" y="63" width="235" height="48"/><text class="bt b31" x="913" y="98">Asiakirja</text></g>
<g id="b-hakemus"><rect class="bl" x="493" y="219" width="192" height="47"/><text class="bt b31" x="589" y="253">Hakemus</text></g>
<g id="b-asia"><rect class="bl" x="758" y="191" width="273" height="47"/><text class="bt b31" x="894" y="225">Asia</text></g>
<g id="b-paatos"><rect class="bl" x="1110" y="197" width="190" height="46"/><text class="bt b31" x="1205" y="231">Päätös</text></g>
<g id="b-alueidenkayttoasia"><rect class="or" x="577" y="331" width="242" height="78"/><text class="bt b28" x="698" y="363"><tspan x="698">Alueidenkäyttö-</tspan><tspan x="698" dy="35">asia</tspan></text></g>
<g id="b-rakennusvalvontaasia"><rect class="gr" x="835" y="331" width="244" height="80"/><text class="bt b28" x="957" y="364"><tspan x="957">Rakennus-</tspan><tspan x="957" dy="35">valvonta-asia</tspan></text></g>
<g id="b-alueidenkayttopaatos"><rect class="or" x="1091" y="340" width="271" height="65"/><text class="bt b28" x="1226" y="366"><tspan x="1226">Alueidenkäyttö-</tspan><tspan x="1226" dy="35">päätös</tspan></text></g>
<g id="b-lupapaatos"><rect class="gr" x="1373" y="340" width="222" height="47"/><text class="bt b31" x="1484" y="374">Lupapäätös</text></g>
<g id="b-rakennuspaikka"><rect class="gr" x="1561" y="268" width="291" height="46"/><text class="bt b31" x="1706" y="302">Rakennuspaikka</text></g>
<g id="b-rakentamishanke"><rect class="gr" x="1911" y="237" width="318" height="46"/><text class="bt b31" x="2070" y="271">Rakentamishanke</text></g>
<g id="b-rakentamistoimenpide"><rect class="gr" x="1751" y="341" width="200" height="64"/><text class="bt b28" x="1851" y="366"><tspan x="1851">Rakentamis-</tspan><tspan x="1851" dy="35">toimenpide</tspan></text></g>
<g id="b-alueidenkayttosuunnitelma"><rect class="or" x="487" y="447" width="242" height="80"/><text class="bt b28" x="608" y="480"><tspan x="608">Alueidenkäyttö-</tspan><tspan x="608" dy="35">suunnitelma</tspan></text></g>
<g id="b-rakennussuunnitelma"><rect class="gr" x="733" y="448" width="221" height="80"/><text class="bt b28" x="843" y="481"><tspan x="843">Rakennus-</tspan><tspan x="843" dy="35">suunnitelma</tspan></text></g>
<g id="b-erityissuunnitelma"><rect class="gr" x="959" y="450" width="194" height="81"/><text class="bt b28" x="1056" y="483"><tspan x="1056">Erityis-</tspan><tspan x="1056" dy="35">suunnitelma</tspan></text></g>
<g id="b-rakennuskohde"><rect class="gr" x="1562" y="470" width="284" height="47"/><text class="bt b31" x="1704" y="504">Rakennuskohde</text></g>
<g id="b-katselmus"><rect class="gr" x="2047" y="501" width="196" height="47"/><text class="bt b31" x="2145" y="535">Katselmus</text></g>
<g id="b-maankayttorajoitus"><rect class="or" x="1166" y="548" width="298" height="47"/><text class="bt b31" x="1315" y="582">Maankäyttörajoitus</text></g>
<g id="b-tonttijako"><rect class="or" x="180" y="614" width="324" height="46"/><text class="bt b31" x="342" y="648">Tonttijakosuunnitelma</text></g>
<g id="b-kaavasuositus"><rect class="or" x="518" y="616" width="224" height="47"/><text class="bt b31" x="630" y="650">Kaavasuositus</text></g>
<g id="b-kaava"><rect class="or" x="858" y="630" width="234" height="47"/><text class="bt b31" x="975" y="664">Kaava</text></g>
<g id="b-kaavamaarays"><rect class="or" x="613" y="670" width="235" height="45"/><text class="bt b31" x="730" y="703">Kaavamääräys</text></g>
<g id="b-kiinteisto"><rect class="gr" x="1471" y="678" width="177" height="47"/><text class="bt b31" x="1559" y="712">Kiinteistö</text></g>
<g id="b-rakennus"><rect class="gr" x="1657" y="707" width="191" height="47"/><text class="bt b31" x="1752" y="741">Rakennus</text></g>
<g id="b-rakennelma"><rect class="gr" x="1890" y="702" width="221" height="47"/><text class="bt b31" x="2000" y="736">Rakennelma</text></g>
<g id="b-kaavakohde"><rect class="or" x="724" y="740" width="311" height="47"/><text class="bt b31" x="879" y="774">Kaavakohde</text></g>
<g id="b-esitonttikohde"><rect class="or" x="199" y="786" width="276" height="46"/><text class="bt b31" x="337" y="820">Esitonttikohde</text></g>
<g id="b-tontti"><rect class="or" x="549" y="812" width="163" height="48"/><text class="bt b31" x="630" y="847">Tontti</text></g>
<g id="b-sisaankaynti"><rect class="gr" x="2000" y="790" width="235" height="47"/><text class="bt b31" x="2117" y="824">Sisäänkäynti</text></g>
<g id="b-rakennuksenosa"><rect class="gr" x="1847" y="845" width="298" height="46"/><text class="bt b31" x="1996" y="879">Rakennuksen osa</text></g>
<g id="b-varuste"><rect class="gr" x="1423" y="910" width="165" height="47"/><text class="bt b31" x="1505" y="944">Varuste</text></g>
<g id="b-tila"><rect class="gr" x="1665" y="905" width="201" height="47"/><text class="bt b31" x="1765" y="939">Tila</text></g>
<g id="b-huoneisto"><rect class="gr" x="1660" y="1034" width="200" height="47"/><text class="bt b31" x="1760" y="1068">Huoneisto</text></g>
</g>
<text x="2220" y="1130" font-family="'Liberation Sans',Arial,sans-serif" font-size="21" fill="#2e3d4f">15.12.2021</text>
</svg>
